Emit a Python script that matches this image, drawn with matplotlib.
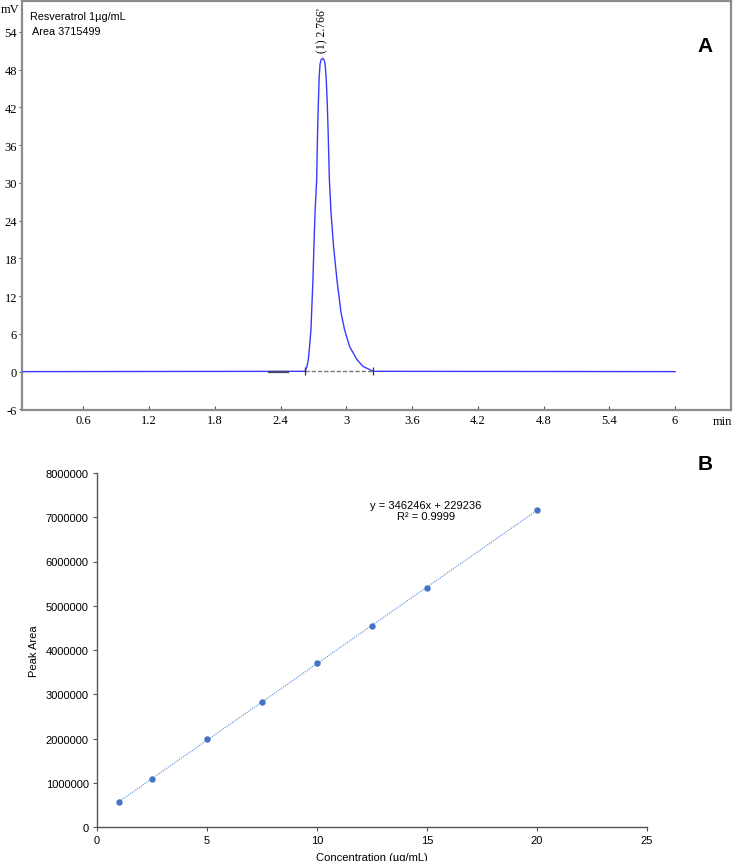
import matplotlib
matplotlib.use("Agg")
import matplotlib.pyplot as plt
import numpy as np

# ---------------- Panel A data (chromatogram) ----------------
trace_time = [0.04, 2.622, 2.641, 2.653, 2.664, 2.677, 2.683, 2.695, 2.704, 2.714, 2.729,
              2.738, 2.745, 2.752, 2.760, 2.770, 2.783, 2.796, 2.806, 2.815, 2.825,
              2.833, 2.845, 2.860, 2.883, 2.914, 2.951, 2.983, 3.029, 3.097, 3.151,
              3.245, 6.0]
trace_mv = [0.0, 0.05, 0.84, 1.9, 4.0, 6.7, 9.4, 14.6, 19.9, 25.3, 30.5,
            38.6, 43.0, 46.9, 48.9, 49.6, 49.8, 49.6, 48.9, 46.9, 43.0,
            38.6, 30.5, 25.3, 19.9, 14.6, 9.4, 6.7, 4.0, 1.9, 0.84,
            0.05, 0.0]
baseline_start, baseline_end = 2.622, 3.245
dark_seg = [2.29, 2.47]
peak_label = "(1) 2.766'"
peak_rt = 2.783
peak_height = 49.8
sample_text = "Resveratrol 1\u00b5g/mL"
area_text = "Area 3715499"
a_xticks = [0.6, 1.2, 1.8, 2.4, 3, 3.6, 4.2, 4.8, 5.4, 6]
a_xticklabels = ["0.6", "1.2", "1.8", "2.4", "3", "3.6", "4.2", "4.8", "5.4", "6"]
a_yticks = [-6, 0, 6, 12, 18, 24, 30, 36, 42, 48, 54]

# ---------------- Panel B data (calibration curve) ----------------
conc = [1, 2.5, 5, 7.5, 10, 12.5, 15, 20]
area = [565000, 1085000, 1990000, 2820000, 3710000, 4550000, 5400000, 7155000]
slope, intercept = 346246, 229236
eq_text = "y = 346246x + 229236\nR\u00b2 = 0.9999"
b_xticks = [0, 5, 10, 15, 20, 25]
b_yticks = [0, 1000000, 2000000, 3000000, 4000000, 5000000, 6000000, 7000000, 8000000]

W, H = 733, 862
fig = plt.figure(figsize=(W / 100, H / 100), dpi=100)
fig.patch.set_facecolor("white")

serif = ["Liberation Serif", "DejaVu Serif"]
sans = ["Liberation Sans", "DejaVu Sans"]
gray = "#8c8c8c"

# ---------- Panel A ----------
axA = fig.add_axes([22 / W, 1 - 411 / H, (731 - 22) / W, (411 - 1.5) / H])
axA.set_xlim(0.04, 6.51)
axA.set_ylim(-6.1, 59.0)
axA.plot(trace_time, trace_mv, color="#3a3aff", lw=1.0, zorder=3,
         solid_joinstyle="round")
axA.plot([baseline_start, baseline_end], [0.05, 0.05], color="#777777", lw=1.0,
         ls=(0, (3, 1.5)), zorder=4)
axA.plot([baseline_start, baseline_end], [0.05, 0.05], ls="none", marker="|",
         color="#333333", ms=6, mew=0.9, zorder=5)
axA.plot(dark_seg, [0, 0], color="#444466", lw=1.6, zorder=4)
for s in axA.spines.values():
    s.set_color(gray)
    s.set_linewidth(1.6)
axA.set_xticks(a_xticks)
axA.set_xticklabels(a_xticklabels, family=serif, fontsize=9)
axA.set_yticks(a_yticks)
axA.set_yticklabels([str(v) for v in a_yticks], family=serif, fontsize=9)
axA.tick_params(axis="x", direction="in", length=3, color="#555555", pad=3)
axA.tick_params(axis="y", direction="out", length=2.5, color="#555555", pad=1)
axA.text(peak_rt, peak_height + 1.0, peak_label, rotation=90, ha="center",
         va="bottom", family=serif, fontsize=8.5)
axA.text(0.115, 56.6, sample_text, family=sans, fontsize=7.8, va="center")
axA.text(0.13, 54.2, area_text, family=sans, fontsize=7.8, va="center")
fig.text(1 / W, 1 - 10 / H, "mV", family=serif, fontsize=9, ha="left", va="center")
fig.text(722 / W, 1 - 422 / H, "min", family=serif, fontsize=9, ha="center", va="center")
fig.text(705 / W, 1 - 46 / H, "A", family=sans, fontsize=15, fontweight="bold",
         ha="center", va="center")

# ---------- Panel B ----------
axB = fig.add_axes([97 / W, 1 - 828 / H, (647 - 97) / W, (828 - 474) / H])
axB.set_xlim(0, 25)
axB.set_ylim(0, 8000000)
xfit = np.array([conc[0], conc[-1]])
axB.plot(xfit, slope * xfit + intercept, color="#5b8bd6", lw=0.8, ls=(0, (1, 1)))
axB.plot(conc, area, ls="none", marker="o", ms=3.6, color="#4472c4", mec="#4472c4")
for side in ["top", "right"]:
    axB.spines[side].set_visible(False)
for side in ["left", "bottom"]:
    axB.spines[side].set_color("#555555")
    axB.spines[side].set_linewidth(1.0)
axB.set_xticks(b_xticks)
axB.set_xticklabels([str(v) for v in b_xticks], family=sans, fontsize=8)
axB.set_yticks(b_yticks)
axB.set_yticklabels([str(v) for v in b_yticks], family=sans, fontsize=8)
axB.tick_params(axis="both", direction="out", length=3, color="#555555", pad=3)
axB.set_xlabel("Concentration (\u00b5g/mL)", family=sans, fontsize=8, labelpad=5)
axB.set_ylabel("Peak Area", family=sans, fontsize=8, labelpad=5)
axB.text(14.95, 7150000, eq_text, ha="center", va="center", family=sans,
         fontsize=8, linespacing=1.15)
fig.text(705 / W, 1 - 465 / H, "B", family=sans, fontsize=15, fontweight="bold",
         ha="center", va="center")

fig.savefig("out.png", dpi=100, facecolor="white")
